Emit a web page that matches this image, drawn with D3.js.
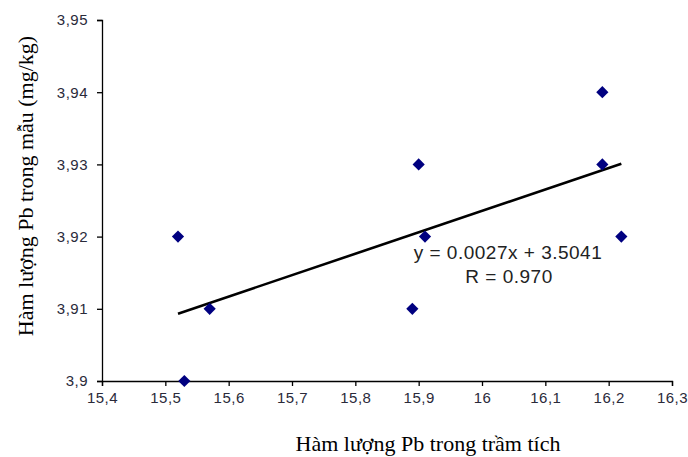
<!DOCTYPE html>
<html>
<head>
<meta charset="utf-8">
<script src="https://cdn.jsdelivr.net/npm/d3@7"></script>
<style>
  html, body { margin: 0; padding: 0; background: #fff; }
  svg { display: block; }
  .tick text { font-family: "Liberation Sans", Arial, sans-serif; font-size: 15px; letter-spacing: 0.5px; fill: #2a2a3a; }
</style>
</head>
<body>
<svg id="chart" width="688" height="457"></svg>
<script>
// Pb content: sediment (x) vs. sample (y)
const sedimentPb = [15.52, 15.53, 15.57, 15.89, 15.90, 15.91, 16.19, 16.19, 16.22];
const samplePb   = [3.92, 3.90, 3.91, 3.91, 3.93, 3.92, 3.94, 3.93, 3.92];
const xTicks = [15.4, 15.5, 15.6, 15.7, 15.8, 15.9, 16.0, 16.1, 16.2, 16.3];
const yTicks = [3.90, 3.91, 3.92, 3.93, 3.94, 3.95];
const equationText = "y = 0.0027x + 3.5041";
const rText = "R = 0.970";

const svg = d3.select("#chart");
const plotLeft = 102, plotRight = 672, plotTop = 20, plotBottom = 381;

const x = d3.scaleLinear().domain([15.4, 16.3]).range([plotLeft, plotRight]);
const y = d3.scaleLinear().domain([3.90, 3.95]).range([plotBottom, plotTop]);

const fmt = d => d3.format(".2~f")(d).replace(".", ",");

// axes
const xAxis = svg.append("g")
  .attr("transform", `translate(0,${plotBottom})`)
  .call(d3.axisBottom(x).tickValues(xTicks).tickFormat(fmt).tickSizeOuter(0).tickSize(5).tickPadding(6));
const yAxis = svg.append("g")
  .attr("transform", `translate(${plotLeft},0)`)
  .call(d3.axisLeft(y).tickValues(yTicks).tickFormat(fmt).tickSizeOuter(0).tickSize(5).tickPadding(9));
[xAxis, yAxis].forEach(g => {
  g.select(".domain").attr("stroke", "#000").attr("stroke-width", 1.3);
  g.selectAll(".tick line").attr("stroke", "#000").attr("stroke-width", 1.3);
});
xAxis.selectAll(".tick text").attr("dy", "0.75em");

// least-squares trend line over the data range
const n = sedimentPb.length;
const mx = d3.mean(sedimentPb), my = d3.mean(samplePb);
let sxy = 0, sxx = 0;
for (let i = 0; i < n; i++) {
  sxy += (sedimentPb[i] - mx) * (samplePb[i] - my);
  sxx += (sedimentPb[i] - mx) ** 2;
}
const slope = sxy / sxx, intercept = my - slope * mx;
const [x0, x1] = d3.extent(sedimentPb);
svg.append("line")
  .attr("x1", x(x0)).attr("y1", y(slope * x0 + intercept))
  .attr("x2", x(x1)).attr("y2", y(slope * x1 + intercept))
  .attr("stroke", "#000").attr("stroke-width", 2.6);

// diamond markers
const diamond = d3.symbol().type(d3.symbolDiamond2).size(95);
svg.append("g").selectAll("path")
  .data(sedimentPb.map((v, i) => [v, samplePb[i]]))
  .join("path")
  .attr("d", diamond)
  .attr("transform", d => `translate(${x(d[0])},${y(d[1])})`)
  .attr("fill", "#000080");

// regression label
const lbl = svg.append("g")
  .attr("font-family", "Liberation Sans, Arial, sans-serif")
  .attr("font-size", 19).attr("letter-spacing", 0.5)
  .attr("fill", "#222").attr("text-anchor", "middle");
lbl.append("text").attr("x", 508).attr("y", 259).text(equationText);
lbl.append("text").attr("x", 509).attr("y", 283).text(rText);

// axis titles
svg.append("text")
  .attr("x", 428).attr("y", 451)
  .attr("text-anchor", "middle")
  .attr("font-family", "Liberation Serif, 'Times New Roman', serif")
  .attr("font-size", 22).attr("fill", "#000")
  .text("Hàm lượng Pb trong trầm tích");
svg.append("text")
  .attr("transform", "translate(33,186) rotate(-90)")
  .attr("text-anchor", "middle")
  .attr("font-family", "Liberation Serif, 'Times New Roman', serif")
  .attr("font-size", 22).attr("fill", "#000")
  .text("Hàm lượng Pb trong mẫu (mg/kg)");
</script>
</body>
</html>
